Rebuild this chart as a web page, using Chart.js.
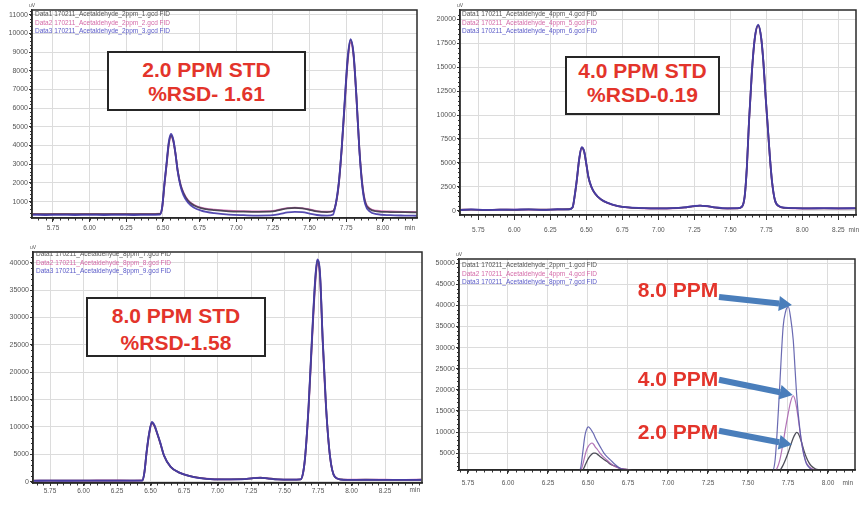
<!DOCTYPE html>
<html><head><meta charset="utf-8">
<script src="https://cdn.jsdelivr.net/npm/chart.js@4"></script>
<style>
html,body{margin:0;padding:0;background:#fff;}
#wrap{position:relative;width:861px;height:505px;overflow:hidden;font-family:"Liberation Sans",Arial,sans-serif;}
canvas{position:absolute;}
.box{position:absolute;box-sizing:border-box;border:2px solid #262626;background:#fff;}
.red{position:absolute;color:#e3342b;font-weight:bold;font-size:21px;line-height:24px;height:24px;text-align:center;white-space:nowrap;}
.leg{position:absolute;font-size:6.5px;line-height:8.5px;white-space:nowrap;}
</style></head><body>
<div id="wrap">
<canvas id="c1" width="430" height="240" style="left:0;top:0"></canvas>
<canvas id="c2" width="431" height="240" style="left:430px;top:0"></canvas>
<canvas id="c3" width="430" height="265" style="left:0;top:240px"></canvas>
<canvas id="c4" width="431" height="265" style="left:430px;top:240px"></canvas>

<div class="leg" style="left:35px;top:10px"><span style="color:#555">Data1 170211_Acetaldehyde_2ppm_1.gcd FID</span><br><span style="color:#d46aa8">Data2 170211_Acetaldehyde_2ppm_2.gcd FID</span><br><span style="color:#5a5ac8">Data3 170211_Acetaldehyde_2ppm_3.gcd FID</span></div>
<div class="leg" style="left:462px;top:10px"><span style="color:#555">Data1 170211_Acetaldehyde_4ppm_4.gcd FID</span><br><span style="color:#d46aa8">Data2 170211_Acetaldehyde_4ppm_5.gcd FID</span><br><span style="color:#5a5ac8">Data3 170211_Acetaldehyde_4ppm_6.gcd FID</span></div>
<div class="leg" style="left:36px;top:250px"><span style="color:#555">Data1 170211_Acetaldehyde_8ppm_7.gcd FID</span><br><span style="color:#d46aa8">Data2 170211_Acetaldehyde_8ppm_8.gcd FID</span><br><span style="color:#5a5ac8">Data3 170211_Acetaldehyde_8ppm_9.gcd FID</span></div>
<div class="leg" style="left:462px;top:261px"><span style="color:#555">Data1 170211_Acetaldehyde_2ppm_1.gcd FID</span><br><span style="color:#d46aa8">Data2 170211_Acetaldehyde_4ppm_4.gcd FID</span><br><span style="color:#5a5ac8">Data3 170211_Acetaldehyde_8ppm_7.gcd FID</span></div>

<div class="box" style="left:107px;top:51px;width:199px;height:60px"></div>
<div class="red" style="left:107px;top:58px;width:199px">2.0 PPM STD</div>
<div class="red" style="left:107px;top:82px;width:199px">%RSD- 1.61</div>

<div class="box" style="left:565px;top:56px;width:155px;height:59px"></div>
<div class="red" style="left:565px;top:59px;width:155px">4.0 PPM STD</div>
<div class="red" style="left:565px;top:83px;width:155px">%RSD-0.19</div>

<div class="box" style="left:86px;top:297px;width:180px;height:60px"></div>
<div class="red" style="left:86px;top:304px;width:180px">8.0 PPM STD</div>
<div class="red" style="left:86px;top:331px;width:180px">%RSD-1.58</div>

<div class="red" style="left:628px;top:278px;width:100px">8.0 PPM</div>
<div class="red" style="left:628px;top:367px;width:100px">4.0 PPM</div>
<div class="red" style="left:628px;top:420px;width:100px">2.0 PPM</div>
</div>
<script>
// ---------- Panel 1 : 2.0 ppm standard, three injections ----------
const p1Time = [5.61,5.70,5.80,5.90,6.00,6.10,6.20,6.30,6.40,6.48,6.495,6.51,6.525,6.54,6.555,6.57,6.585,6.60,6.62,6.64,6.67,6.71,6.76,6.85,6.95,7.05,7.15,7.25,7.30,7.35,7.40,7.45,7.50,7.55,7.62,7.66,7.68,7.70,7.72,7.74,7.76,7.78,7.80,7.82,7.84,7.86,7.88,7.91,7.96,8.05,8.15,8.23];
const p1Run1 = [330,320,330,320,330,320,330,320,330,340,700,1900,3000,4100,4550,4300,3600,2700,1900,1450,1050,800,650,540,480,460,450,470,560,640,660,640,560,470,440,480,900,2000,3900,6300,8600,9650,8900,6600,3800,1900,950,600,480,440,430,420];
const p1Run2 = [340,330,340,330,340,330,340,330,340,350,680,1850,2950,4050,4480,4250,3580,2700,1920,1480,1080,830,680,570,510,490,480,500,580,650,670,650,580,490,460,490,880,1950,3850,6200,8450,9520,8800,6550,3800,1950,1000,640,510,470,450,440];
const p1Run3 = [290,280,290,280,290,280,290,280,290,300,720,1950,3080,4200,4620,4350,3620,2650,1820,1350,950,680,520,380,300,270,250,270,340,420,450,430,360,280,250,300,920,2050,3950,6400,8700,9700,8950,6600,3750,1800,850,480,330,270,250,240];
const p1XTicks = [5.75,6.00,6.25,6.50,6.75,7.00,7.25,7.50,7.75,8.00];
const p1YTicks = [1000,2000,3000,4000,5000,6000,7000,8000,9000,10000,11000];

// ---------- Panel 2 : 4.0 ppm standard ----------
const p2Time = [5.62,5.70,5.80,5.90,6.00,6.10,6.20,6.30,6.38,6.405,6.42,6.435,6.45,6.468,6.485,6.50,6.515,6.535,6.56,6.60,6.65,6.72,6.80,6.90,7.00,7.10,7.18,7.24,7.29,7.34,7.40,7.48,7.55,7.58,7.60,7.615,7.63,7.65,7.67,7.694,7.715,7.73,7.745,7.76,7.775,7.79,7.81,7.84,7.88,7.95,8.05,8.15,8.25,8.37];
const p2Run1 = [80,120,60,110,90,130,100,140,150,350,1600,3300,5300,6600,6200,4900,3500,2500,1800,1200,800,480,330,260,240,260,340,460,530,470,330,240,250,400,1500,4500,9300,14500,18000,19400,18000,15500,12000,8800,5600,3000,1100,450,300,260,240,250,240,250];
const p2Run2 = [90,110,70,120,100,120,110,130,160,340,1550,3250,5250,6580,6180,4880,3480,2480,1790,1190,790,470,320,250,230,250,330,450,520,460,320,230,240,390,1480,4450,9250,14450,17950,19350,17950,15450,11950,8750,5550,2950,1080,440,290,250,230,240,230,240];
const p2Run3 = [70,130,80,100,110,140,90,150,140,360,1650,3350,5350,6650,6220,4920,3520,2520,1820,1210,810,490,340,270,250,270,350,470,540,480,340,250,260,410,1520,4550,9350,14550,18050,19450,18050,15550,12050,8850,5650,3050,1120,460,310,270,250,260,250,260];
const p2XTicks = [5.75,6.00,6.25,6.50,6.75,7.00,7.25,7.50,7.75,8.00,8.25];
const p2YTicks = [0,2500,5000,7500,10000,12500,15000,17500,20000];

// ---------- Panel 3 : 8.0 ppm standard ----------
const p3Time = [5.63,5.75,5.90,6.05,6.20,6.35,6.44,6.455,6.47,6.49,6.51,6.53,6.55,6.575,6.60,6.65,6.72,6.82,6.92,7.05,7.18,7.27,7.32,7.37,7.45,7.55,7.62,7.64,7.655,7.68,7.705,7.73,7.745,7.765,7.785,7.81,7.84,7.875,7.92,7.97,8.10,8.25,8.40,8.52];
const p3Run1 = [180,200,190,200,210,200,230,1800,5200,8800,10800,10200,8800,6900,4800,2700,1600,860,520,420,450,650,720,620,420,380,420,1800,4800,13800,26000,37000,40400,37800,25800,13600,4500,900,400,330,350,340,330,350];
const p3Run2 = [200,210,200,210,220,210,240,1750,5100,8700,10650,10100,8750,6850,4780,2700,1620,880,540,440,470,660,730,630,430,390,430,1750,4700,13500,25500,36400,39800,37400,25600,13500,4500,920,420,350,360,350,340,360];
const p3Run3 = [160,180,170,180,190,180,210,1850,5300,8900,10900,10300,8850,6950,4820,2720,1600,850,510,410,440,640,710,610,410,370,410,1850,4900,14000,26400,37400,40600,38000,26000,13700,4550,900,390,320,340,330,320,340];
const p3XTicks = [5.75,6.00,6.25,6.50,6.75,7.00,7.25,7.50,7.75,8.00,8.25];
const p3YTicks = [0,5000,10000,15000,20000,25000,30000,35000,40000];

// ---------- Panel 4 : overlay of 2.0 / 4.0 / 8.0 ppm ----------
const p4Time = [5.69,5.90,6.10,6.30,6.44,6.455,6.467,6.48,6.49,6.502,6.515,6.525,6.535,6.545,6.56,6.575,6.60,6.62,6.64,6.67,6.70,6.73,6.76,6.80,7.00,7.20,7.40,7.60,7.65,7.67,7.69,7.70,7.72,7.735,7.752,7.767,7.783,7.795,7.804,7.815,7.833,7.85,7.864,7.88,7.895,7.92,7.95,7.98,8.05,8.17];
const p4Ppm2 = [500,500,500,500,500,500,900,1900,2800,3700,4400,4800,5000,5000,4700,4200,3500,3000,2400,1900,1400,1200,1000,700,500,500,500,500,500,500,700,900,2200,3500,5200,6900,8600,9500,9900,9600,7800,5600,4100,2800,2000,1300,1000,700,500,500];
const p4Ppm4 = [500,500,500,500,500,800,2200,4200,5600,6600,7200,7400,7100,6500,5800,5000,4000,3300,2600,1800,1400,1200,1000,700,500,500,500,500,500,700,2200,3500,7500,11000,14500,17200,18600,17500,15800,13000,8000,4500,2800,1900,1400,1000,700,500,500,500];
const p4Ppm8 = [500,500,500,500,500,1600,5000,8900,10500,11200,10800,10200,9600,8700,7600,6600,5000,4100,3400,2300,1400,1000,800,600,500,500,500,500,600,3500,15000,22000,35000,38500,39700,37000,31800,24500,19000,14000,8100,4500,2600,1700,1200,800,600,500,500,500];
const p4XTicks = [5.75,6.00,6.25,6.50,6.75,7.00,7.25,7.50,7.75,8.00];
const p4YTicks = [5000,10000,15000,20000,25000,30000,35000,40000,45000,50000];

// ---------- drawing ----------
const FONT = '"Liberation Sans", Arial, sans-serif';
const C1 = 'rgba(62,62,74,0.9)', C2 = 'rgba(206,96,176,0.9)', C3 = 'rgba(70,60,170,0.92)';

function series(time, vals){ return time.map((t,i)=>({x:t, y:vals[i]})); }

const framePlugin = {
  id: 'chromFrame',
  afterDraw(chart, args, o){
    const {ctx, chartArea:a, scales:{x, y}} = chart;
    ctx.save();
    ctx.strokeStyle = '#333'; ctx.lineWidth = 1;
    ctx.beginPath();
    const i0 = Math.ceil(x.min / o.xMinor), i1 = Math.floor(x.max / o.xMinor);
    for (let i = i0; i <= i1; i++){
      const px = Math.round(x.getPixelForValue(i * o.xMinor)) + 0.5;
      ctx.moveTo(px, a.bottom); ctx.lineTo(px, a.bottom + 2.5);
    }
    const j0 = Math.ceil(y.min / o.yMinor), j1 = Math.floor(y.max / o.yMinor);
    for (let j = j0; j <= j1; j++){
      const py = Math.round(y.getPixelForValue(j * o.yMinor)) + 0.5;
      ctx.moveTo(a.left, py); ctx.lineTo(a.left - 2, py);
    }
    ctx.stroke();
    ctx.strokeStyle = '#2a2a2a'; ctx.lineWidth = 1.5;
    ctx.strokeRect(a.left, a.top, a.right - a.left, a.bottom - a.top);
    ctx.fillStyle = '#555'; ctx.font = '6.5px ' + FONT;
    ctx.textAlign = 'right'; ctx.textBaseline = 'middle';
    ctx.fillText('min', a.right + o.minShift, a.bottom + o.labelOffset);
    ctx.textAlign = 'center'; ctx.font = '5px ' + FONT;
    ctx.fillText('uV', a.left, a.top - 4);
    ctx.restore();
  }
};

const arrowPlugin = {
  id: 'arrows',
  afterDatasetsDraw(chart, args, o){
    const items = o.items || [];
    if (!items.length) return;
    const {ctx, scales:{x, y}} = chart;
    ctx.save();
    for (const it of items){
      const x0 = x.getPixelForValue(it.from[0]), y0 = y.getPixelForValue(it.from[1]);
      const x1 = x.getPixelForValue(it.to[0]), y1 = y.getPixelForValue(it.to[1]);
      const ang = Math.atan2(y1 - y0, x1 - x0), head = 13, hw = 7.5;
      const bx = x1 - head * Math.cos(ang), by = y1 - head * Math.sin(ang);
      ctx.strokeStyle = o.color; ctx.lineWidth = 6;
      ctx.beginPath(); ctx.moveTo(x0, y0); ctx.lineTo(bx, by); ctx.stroke();
      ctx.fillStyle = o.color; ctx.beginPath(); ctx.moveTo(x1, y1);
      ctx.lineTo(bx - hw * Math.sin(ang), by + hw * Math.cos(ang));
      ctx.lineTo(bx + hw * Math.sin(ang), by - hw * Math.cos(ang));
      ctx.closePath(); ctx.fill();
    }
    ctx.restore();
  }
};

function makeChart(id, g, datasets, xTicks, yTicks, arrows){
  return new Chart(document.getElementById(id), {
    type: 'line',
    data: { datasets },
    plugins: [framePlugin, arrowPlugin],
    options: {
      responsive: false, animation: false, devicePixelRatio: 1,
      layout: { padding: { top: g.padTop, right: g.padRight, left: 0, bottom: 0 } },
      elements: { point: { radius: 0 }, line: { cubicInterpolationMode: 'monotone' } },
      plugins: {
        legend: { display: false }, tooltip: { enabled: false },
        chromFrame: { xMinor: 0.05, yMinor: g.yMinor, labelOffset: g.labelOffset, minShift: g.minShift },
        arrows: { items: arrows || [], color: '#4a7ebb' }
      },
      scales: {
        x: {
          type: 'linear', min: g.xMin, max: g.xMax,
          afterFit: s => { s.height = g.xH; },
          afterBuildTicks: s => { s.ticks = xTicks.map(v => ({ value: v })); },
          ticks: { autoSkip: false, maxRotation: 0, color: '#555', padding: g.xPad,
                   font: { size: 6.5, family: FONT }, callback: v => Number(v).toFixed(2) },
          grid: { color: '#dcdcdc', lineWidth: 1, tickColor: '#333', tickLength: g.xTick },
          border: { display: true, color: '#2a2a2a', width: 1.5 }
        },
        y: {
          type: 'linear', min: g.yMin, max: g.yMax,
          afterFit: s => { s.width = g.yW; },
          afterBuildTicks: s => { s.ticks = yTicks.map(v => ({ value: v })); },
          ticks: { autoSkip: false, color: '#555', padding: 1,
                   font: { size: 7, family: FONT }, callback: v => String(v) },
          grid: { color: '#dcdcdc', lineWidth: 1, tickColor: '#333', tickLength: 3 },
          border: { display: true, color: '#2a2a2a', width: 1.5 }
        }
      }
    }
  });
}

function runSets(time, r1, r2, r3, w){
  return [
    { data: series(time, r3), borderColor: C3, borderWidth: w, fill: false },
    { data: series(time, r1), borderColor: C1, borderWidth: w, fill: false },
    { data: series(time, r2), borderColor: C2, borderWidth: w, fill: false }
  ];
}

makeChart('c1', { padTop: 10, padRight: 13, yW: 32, xH: 22, xMin: 5.607, xMax: 8.233, yMin: 120, yMax: 11260,
  yMinor: 200, xTick: 4, xPad: 2, labelOffset: 10.3, minShift: -2 },
  runSets(p1Time, p1Run1, p1Run2, p1Run3, 1.8), p1XTicks, p1YTicks);

makeChart('c2', { padTop: 10, padRight: 5, yW: 30, xH: 25, xMin: 5.623, xMax: 8.373, yMin: -450, yMax: 20980,
  yMinor: 500, xTick: 5, xPad: 6, labelOffset: 15, minShift: 3 },
  runSets(p2Time, p2Run1, p2Run2, p2Run3, 1.8), p2XTicks, p2YTicks);

makeChart('c3', { padTop: 12, padRight: 8, yW: 33, xH: 22, xMin: 5.623, xMax: 8.526, yMin: -240, yMax: 41950,
  yMinor: 1000, xTick: 3, xPad: 1, labelOffset: 7.5, minShift: -2 },
  runSets(p3Time, p3Run1, p3Run2, p3Run3, 1.8), p3XTicks, p3YTicks);

makeChart('c4', { padTop: 19, padRight: 6, yW: 29, xH: 35, xMin: 5.694, xMax: 8.169, yMin: 1000, yMax: 51000,
  yMinor: 1000, xTick: 4, xPad: 5, labelOffset: 13.3, minShift: -2 },
  [
    { data: series(p4Time, p4Ppm8), borderColor: 'rgba(90,90,170,0.9)', borderWidth: 1.2, fill: false },
    { data: series(p4Time, p4Ppm4), borderColor: 'rgba(170,100,175,0.9)', borderWidth: 1.2, fill: false },
    { data: series(p4Time, p4Ppm2), borderColor: 'rgba(60,60,72,0.9)', borderWidth: 1.3, fill: false }
  ],
  p4XTicks, p4YTicks,
  [
    { from: [7.319, 42000], to: [7.775, 40100] },
    { from: [7.319, 22400], to: [7.78, 18800] },
    { from: [7.319, 10300], to: [7.775, 7000] }
  ]);
</script>
</body></html>
